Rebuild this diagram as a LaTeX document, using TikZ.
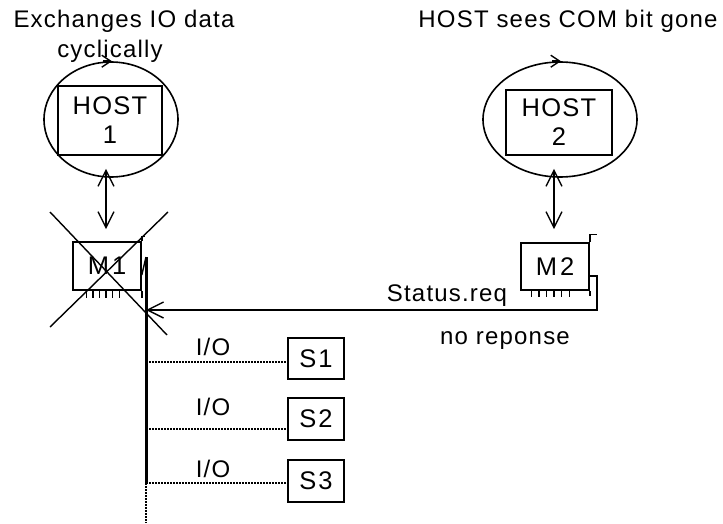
\documentclass[tikz,border=0pt]{standalone}
\usepackage{fontspec}
\setmainfont{Liberation Sans}[LetterSpace=5]
\usetikzlibrary{arrows.meta,shapes.geometric}
\begin{document}
\begin{tikzpicture}[x=1pt,y=-1pt,
  line width=1.4pt,
  txt/.style={font=\fontsize{24}{28}\selectfont, inner sep=0pt},
  boxn/.style={draw, line width=1.6pt, inner sep=0pt, align=center, font=\fontsize{25.5}{29}\selectfont},
  ellp/.style={draw, ellipse, line width=1.6pt, inner sep=0pt},
  barb/.style={-{Straight Barb[length=16pt,width=16pt]}},
  dbl/.style={{Straight Barb[length=16pt,width=16pt]}-{Straight Barb[length=16pt,width=16pt]}},
  dots/.style={line width=1.6pt, dash pattern=on 2pt off 1pt},
]
\useasboundingbox (0,0) rectangle (723,524);

% titles
\node[txt, anchor=base] (t1a) at (124,28) {Exchanges IO data};
\node[txt, anchor=base] (t1b) at (110,58) {cyclically};
\node[txt, anchor=base] (t2) at (568,28) {HOST sees COM bit gone};

% ellipses and hosts
\node[ellp, minimum width=134, minimum height=115] (ell1) at (111,119.5) {};
\node[ellp, minimum width=154, minimum height=115] (ell2) at (560,119.5) {};
\node[boxn, minimum width=104, minimum height=69] (host1) at (110,120.5) {HOST\\1};
\node[boxn, minimum width=106, minimum height=65] (host2) at (559,122.5) {HOST\\2};
\draw[-{Straight Barb[length=9pt,width=12pt]}] ([xshift=-8]ell1.north) -- ([xshift=1]ell1.north);
\draw[-{Straight Barb[length=9pt,width=12pt]}] ([xshift=-8]ell2.north) -- ([xshift=1]ell2.north);

% masters
\node[boxn, minimum width=68, minimum height=48] (m1) at (107,266) {M\hspace{3pt}1};
\node[boxn, minimum width=68, minimum height=47] (m2) at (555,266.5) {M\hspace{3pt}2};

% brackets at top right
\draw (m1.north east) -- ++(0,-5) -- ++(3,0);
\draw (m2.north east) -- ++(0,-8) -- ++(7,0);

% ticks at bottom
\foreach \d in {14,20.6,27.2,33.8,40.4,47} \draw ([xshift=\d]m1.south west) -- ++(0,7);
\draw (m1.south east) -- ++(0,7);
\foreach \d in {11,18.6,26.2,33.8,41.4,49} \draw ([xshift=\d]m2.south west) -- ++(0,6);
\draw (m2.south east) -- ++(0,5);

% host <-> master
\draw[dbl] ([shift={(-4,13)}]host1.south) -- ([shift={(-1,-12)}]m1.north);
\draw[dbl] ([shift={(-5,13)}]host2.south) -- ([shift={(-1,-13)}]m2.north);

% slaves
\node[boxn, minimum width=56, minimum height=41] (s1) at (316,358.5) {S\hspace{2pt}1};
\node[boxn, minimum width=56, minimum height=42] (s2) at (316,419) {S\hspace{2pt}2};
\node[boxn, minimum width=56, minimum height=42] (s3) at (316,481) {S\hspace{2pt}3};

% bus
\coordinate (busTop) at (146,257);
\coordinate (hit) at (146,310);
\coordinate (b1) at (146,362);
\coordinate (b2) at (146,429);
\coordinate (b3) at (146,483);
\coordinate (busEnd) at (146,523);
\draw ([yshift=-9]m1.east) -- (busTop);
\draw[line width=3pt] (busTop) -- (b3);
\draw[dots] (b3) -- (busEnd);

\draw[dots] (b1) -- (b1 -| s1.west);
\draw[dots] (b2) -- (b2 -| s2.west);
\draw[dots] (b3) -- (b3 -| s3.west);
\node[txt, anchor=base] (io1) at (213,355) {I/O};
\node[txt, anchor=base] (io2) at (213,415) {I/O};
\node[txt, anchor=base] (io3) at (213,477) {I/O};

% status request
\draw[barb] ([yshift=-9.5]m2.east) -- ++(7,0) |- (hit);
\node[txt, anchor=base] (st) at (447,301) {Status.req};
\node[txt, anchor=base] (nr) at (505,344) {no reponse};

% cross over M1
\draw (50,212) -- (167,335);
\draw (168,212) -- (50,327);
\end{tikzpicture}
\end{document}
